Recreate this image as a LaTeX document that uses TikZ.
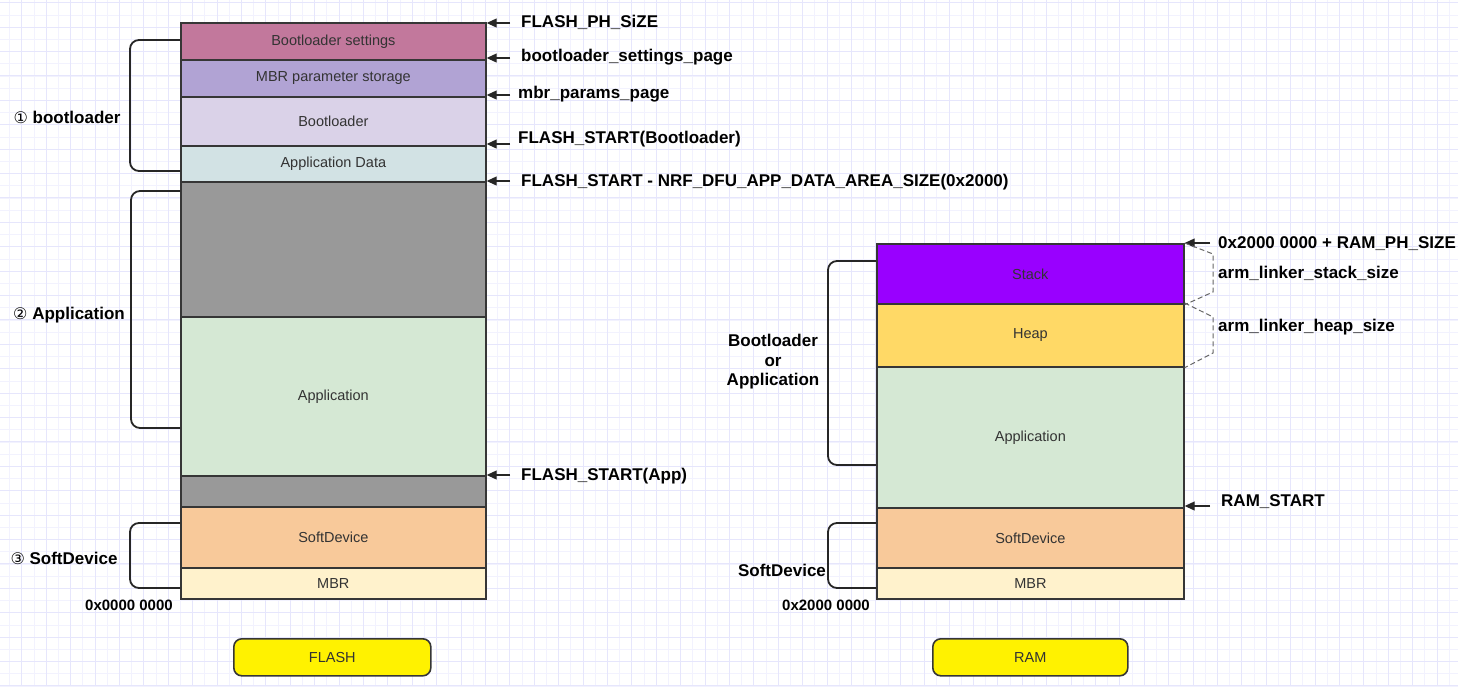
\documentclass[tikz,border=0pt]{standalone}
\usepackage{fontspec}
\setmainfont{Liberation Sans}
\newfontfamily\dejavu{DejaVu Sans}
\usetikzlibrary{arrows.meta}
\definecolor{cBS}{RGB}{194,120,156}
\definecolor{cMBRP}{RGB}{177,163,212}
\definecolor{cBL}{RGB}{218,210,232}
\definecolor{cAD}{RGB}{210,226,228}
\definecolor{cGray}{RGB}{153,153,153}
\definecolor{cApp}{RGB}{213,232,212}
\definecolor{cSD}{RGB}{248,201,154}
\definecolor{cMBR}{RGB}{255,242,204}
\definecolor{cStack}{RGB}{153,0,255}
\definecolor{cHeap}{RGB}{255,217,102}
\definecolor{cStroke}{RGB}{54,54,54}
\definecolor{cText}{RGB}{51,51,51}
\definecolor{cGridA}{RGB}{242,242,254}
\definecolor{cGridB}{RGB}{230,230,252}
\begin{document}
\begin{tikzpicture}[x=1pt,y=-1pt,
  blk/.style={draw=cStroke, line width=1.7pt, inner sep=0pt, anchor=north west,
    text=cText, font=\fontsize{14.5}{17}\selectfont},
  lbl/.style={inner sep=0pt, font=\fontsize{17}{20}\selectfont\bfseries, text=black},
  addr/.style={inner sep=0pt, font=\fontsize{15}{18}\selectfont\bfseries, text=black},
  ptr/.style={-{Triangle[length=10pt,width=9pt]}, line width=1.1pt, draw=black!85},
  brk/.style={line width=1.8pt, draw=black!85, rounded corners=9pt},
  dbrk/.style={dashed, dash pattern=on 5pt off 3pt, line width=1pt, draw=black!60},
  btn/.style={draw=cStroke, line width=1.6pt, fill=yellow, rounded corners=8pt,
    minimum width=197pt, minimum height=37pt, inner sep=0pt, anchor=north west,
    text=cText, font=\fontsize{14.5}{17}\selectfont}
]
\useasboundingbox (0,0) rectangle (1458,686);
\fill[white] (0,0) rectangle (1458,686);
% grid
\foreach \i in {0,...,119} \draw[cGridA, line width=0.8pt] ({9.6+12.2*\i},0) -- ({9.6+12.2*\i},686);
\foreach \i in {0,...,56} \draw[cGridA, line width=0.8pt] (0,{2.7+12.2*\i}) -- (1458,{2.7+12.2*\i});
\foreach \i in {0,...,59} \draw[cGridB, line width=0.9pt] ({21.9+24.4*\i},0) -- ({21.9+24.4*\i},686);
\foreach \i in {0,...,28} \draw[cGridB, line width=0.9pt] (0,{2.7+24.4*\i}) -- (1458,{2.7+24.4*\i});

% FLASH blocks
\node[blk, fill=cBS,   minimum width=305pt, minimum height=37pt]  (bs)   at (180,22)  {Bootloader settings};
\node[blk, fill=cMBRP, minimum width=305pt, minimum height=37pt]  (mbrp) at (180,59)  {MBR parameter storage};
\node[blk, fill=cBL,   minimum width=305pt, minimum height=49pt]  (bl)   at (180,96)  {Bootloader};
\node[blk, fill=cAD,   minimum width=305pt, minimum height=36pt]  (ad)   at (180,145) {Application Data};
\node[blk, fill=cGray, minimum width=305pt, minimum height=135pt] (g1)   at (180,181) {};
\node[blk, fill=cApp,  minimum width=305pt, minimum height=159pt] (app)  at (180,316) {Application};
\node[blk, fill=cGray, minimum width=305pt, minimum height=31pt]  (g2)   at (180,475) {};
\node[blk, fill=cSD,   minimum width=305pt, minimum height=61pt]  (sd)   at (180,506) {SoftDevice};
\node[blk, fill=cMBR,  minimum width=305pt, minimum height=31pt]  (mbr)  at (180,567) {MBR};

% RAM blocks
\node[blk, fill=cStack, minimum width=307pt, minimum height=60pt]  (stk)  at (876,243) {Stack};
\node[blk, fill=cHeap,  minimum width=307pt, minimum height=63pt]  (hp)   at (876,303) {Heap};
\node[blk, fill=cApp,   minimum width=307pt, minimum height=141pt] (rapp) at (876,366) {Application};
\node[blk, fill=cSD,    minimum width=307pt, minimum height=60pt]  (rsd)  at (876,507) {SoftDevice};
\node[blk, fill=cMBR,   minimum width=307pt, minimum height=31pt]  (rmbr) at (876,567) {MBR};

% buttons
\node[btn] (bflash) at (233,638) {FLASH};
\node[btn, minimum width=195pt] (bram) at (932,638) {RAM};

% left braces FLASH
\draw[brk] (180,40) -| (130,171) -- (180,171);
\draw[brk] (180,191) -| (131,428) -- (180,428);
\draw[brk] (180,523) -| (130,588) -- (180,588);
% left braces RAM
\draw[brk] (876,261) -| (828,465) -- (876,465);
\draw[brk] (876,523) -| (828,588) -- (876,588);

% left labels
\node[lbl] (lb1) at (67,117) {{\dejavu\mdseries\fontsize{16}{17}\selectfont ①} bootloader};
\node[lbl] (lb2) at (69,315) {{\dejavu\mdseries\fontsize{16}{17}\selectfont ②} Application};
\node[lbl] (lb3) at (64,558) {{\dejavu\mdseries\fontsize{16}{17}\selectfont ③} SoftDevice};
\node[addr] (a0) at (129,605) {0x0000 0000};
\node[lbl, align=center, font=\fontsize{17}{19.5}\selectfont\bfseries] (lb4) at (773,362) {Bootloader\\or\\Application};
\node[lbl] (lb5) at (782,570) {SoftDevice};
\node[addr] (a1) at (826,605) {0x2000 0000};

% FLASH right labels and arrows
\node[lbl, anchor=west] (t1) at (521,22)  {FLASH\_PH\_SiZE};
\node[lbl, anchor=west] (t2) at (521,57)  {bootloader\_settings\_page};
\node[lbl, anchor=west] (t3) at (518,94)  {mbr\_params\_page};
\node[lbl, anchor=west] (t4) at (518,139) {FLASH\_START(Bootloader)};
\node[lbl, anchor=west] (t5) at (521,182) {FLASH\_START - NRF\_DFU\_APP\_DATA\_AREA\_SIZE(0x2000)};
\node[lbl, anchor=west] (t6) at (521,476) {FLASH\_START(App)};
\coordinate (s1) at (510,23);
\coordinate (s2) at (510,58);
\coordinate (s3) at (510,95);
\coordinate (s4) at (510,144);
\coordinate (s5) at (510,181);
\coordinate (s6) at (510,475);
\draw[ptr] (s1) -- (s1 -| bs.east);
\draw[ptr] (s2) -- (s2 -| bs.east);
\draw[ptr] (s3) -- (s3 -| mbrp.east);
\draw[ptr] (s4) -- (s4 -| bl.east);
\draw[ptr] (s5) -- (s5 -| ad.east);
\draw[ptr] (s6) -- (s6 -| app.east);

% RAM right labels and arrows
\node[lbl, anchor=west] (r1) at (1218,244) {0x2000 0000 + RAM\_PH\_SIZE};
\node[lbl, anchor=west] (r2) at (1218,273) {arm\_linker\_stack\_size};
\node[lbl, anchor=west] (r3) at (1218,327) {arm\_linker\_heap\_size};
\node[lbl, anchor=west] (r4) at (1221,502) {RAM\_START};
\coordinate (q1) at (1210,243);
\coordinate (q4) at (1210,506);
\draw[ptr] (q1) -- (q1 -| stk.east);
\draw[ptr] (q4) -- (q4 -| rapp.east);

% dashed size brackets
\draw[dbrk] (stk.north east) -- (1213,254) -- (1213,292) -- (stk.south east);
\draw[dbrk] (hp.north east) -- (1213,317) -- (1213,353) -- (hp.south east);
\end{tikzpicture}
\end{document}
